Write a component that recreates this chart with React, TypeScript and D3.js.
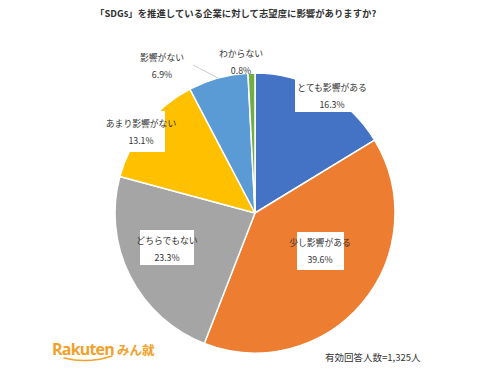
import { useMemo } from 'react';
import * as d3 from 'd3';

// 回答カテゴリと割合
const categories = ['とても影響がある', '少し影響がある', 'どちらでもない', 'あまり影響がない', '影響がない', 'わからない'];
const values = [16.3, 39.6, 23.3, 13.1, 6.9, 0.8];
const colors = ['#4472C4', '#ED7D31', '#A5A5A5', '#FFC000', '#5B9BD5', '#70AD47'];

const title = '「SDGs」を推進している企業に対して志望度に影響がありますか?';
const note = '有効回答人数=1,325人';

// ラベルの位置 (中心x, 1行目y, 白ボックス)
const labelLayout = [
  { x: 332, y: 89, box: [295, 78, 78, 34] },
  { x: 320, y: 244, box: [297, 232, 47, 38] },
  { x: 167, y: 242, box: [140, 230, 54, 35] },
  { x: 141, y: 125, box: [117, 111, 48, 41] },
  { x: 162, y: 59, box: null, leader: true },
  { x: 241, y: 55, box: null, leader: false },
];

const W = 500;
const H = 370;
const cx = 255;
const cy = 213;
const R = 140;

export default function App() {
  const arcs = useMemo(() => {
    const pie = d3.pie<number>().sort(null).value(d => d);
    return pie(values);
  }, []);

  const arc = d3.arc<d3.PieArcDatum<number>>().innerRadius(0).outerRadius(R);
  const font = '"Noto Sans CJK JP", "Noto Sans", sans-serif';

  return (
    <svg width={W} height={H} style={{ position: 'absolute', left: 0, top: 0, background: '#fff' }} fontFamily={font}>
      <text x={95} y={17} fontSize={9.4} fontWeight={600} fill="#333">{title}</text>

      <g transform={`translate(${cx},${cy})`}>
        {arcs.map((a, i) => (
          <path key={i} d={arc(a) || ''} fill={colors[i]} stroke="#fff" strokeWidth={1.5} strokeLinejoin="round" />
        ))}
        {arcs.map((a, i) => {
          const l = labelLayout[i];
          if (!l.leader) return null;
          const mid = (a.startAngle + a.endAngle) / 2;
          const px = Math.sin(mid) * R;
          const py = -Math.cos(mid) * R;
          return <line key={'ld' + i} x1={px} y1={py} x2={193 - cx} y2={65 - cy} stroke="#bfbfbf" strokeWidth={0.8} />;
        })}
      </g>

      {categories.map((c, i) => {
        const l = labelLayout[i];
        return (
          <g key={c}>
            {l.box && <rect x={l.box[0]} y={l.box[1]} width={l.box[2]} height={l.box[3]} fill="#fff" />}
            <text x={l.x} y={l.y} textAnchor="middle" dominantBaseline="middle" fontSize={8.8} fill="#333">{c}</text>
            <text x={l.x} y={l.y + 17} textAnchor="middle" dominantBaseline="middle" fontSize={8.8} fill="#333">
              {values[i].toFixed(1)}%
            </text>
          </g>
        );
      })}

      <text x={325} y={361} fontSize={9.5} fill="#333">{note}</text>

      <g>
        <text x={52} y={355} fontFamily='"Open Sans", "DejaVu Sans", sans-serif' fontSize={16} fontWeight={700} fill="#F0A12B" letterSpacing={-0.8}>Rakuten</text>
        <path d="M 64 358 Q 88 364 112 356" fill="none" stroke="#F0A12B" strokeWidth={1.6} strokeLinecap="round" />
        <text x={117} y={355} fontSize={12.5} fontWeight={700} fill="#F0A12B">みん就</text>
      </g>
    </svg>
  );
}
